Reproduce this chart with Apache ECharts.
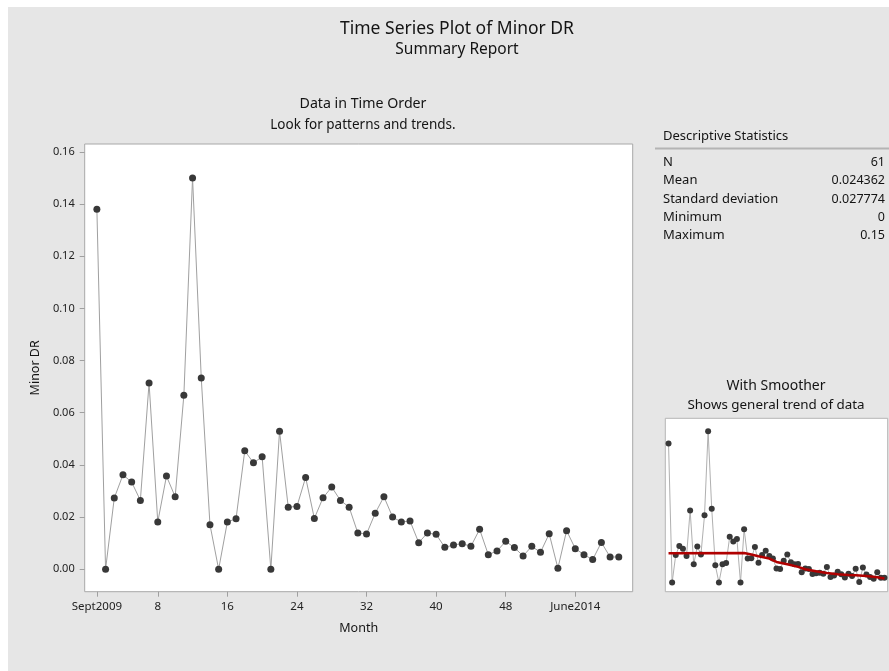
<!DOCTYPE html>
<html>
<head>
<meta charset="utf-8">
<script src="https://cdn.jsdelivr.net/npm/echarts@6/dist/echarts.min.js"></script>
<style>
html,body{margin:0;padding:0;background:#fff;}
#chart{width:889px;height:671px;}
</style>
</head>
<body>
<div id="chart"></div>
<script>
// ---- data ----
var minorDR = [
  0.138, 0, 0.0273, 0.0362, 0.0334, 0.0264, 0.0714, 0.0181, 0.0357, 0.0278,
  0.0667, 0.15, 0.0733, 0.0171, 0, 0.0181, 0.0194, 0.0454, 0.0408, 0.0431,
  0, 0.0529, 0.0238, 0.0241, 0.0352, 0.0195, 0.0274, 0.0315, 0.0264, 0.0238,
  0.0139, 0.0135, 0.0215, 0.0278, 0.0200, 0.0181, 0.0185, 0.0102, 0.0139, 0.0134,
  0.0084, 0.0093, 0.0098, 0.0088, 0.0153, 0.0056, 0.0070, 0.0107, 0.0083, 0.0051,
  0.0088, 0.0065, 0.0136, 0.0004, 0.0148, 0.0079, 0.0056, 0.0037, 0.0103, 0.0047, 0.0047
];
var smoothX = [1, 22, 24, 26, 29, 31, 34, 37, 39, 42, 45, 48, 51, 53, 56, 59, 61];
var smoothY = [0.0290, 0.0292, 0.0278, 0.0261, 0.0238, 0.0204, 0.0181, 0.0155, 0.0132, 0.0112, 0.0095, 0.0082, 0.0075, 0.0072, 0.0065, 0.0053, 0.0040];
var xTickValues = [1, 8, 16, 24, 32, 40, 48, 56];
var xTickLabels = ['Sept2009', '8', '16', '24', '32', '40', '48', 'June2014'];
var yTickValues = [0, 0.02, 0.04, 0.06, 0.08, 0.10, 0.12, 0.14, 0.16];
var statLabels = ['N', 'Mean', 'Standard deviation', 'Minimum', 'Maximum'];
var statValues = ['61', '0.024362', '0.027774', '0', '0.15'];

// ---- build ----
var FONT = '"Noto Sans", "Open Sans", sans-serif';
var TXT = '#141414';
var seriesData = minorDR.map(function (v, i) { return [i + 1, v]; });
var smoothData = smoothX.map(function (x, i) { return [x, smoothY[i]]; });

var graphics = [
  { type: 'rect', z: -10, silent: true, shape: { x: 8, y: 7, width: 881, height: 664 }, style: { fill: '#e6e6e6' } },
  { type: 'text', style: { text: 'Descriptive Statistics', x: 663, y: 136, font: '13px ' + FONT, fill: TXT, textVerticalAlign: 'middle' } },
  { type: 'line', shape: { x1: 655, y1: 148.5, x2: 889, y2: 148.5 }, style: { stroke: '#b4b4b4', lineWidth: 2 } }
];
var rowY = [162.5, 180.7, 199, 217.3, 235.7];
statLabels.forEach(function (lab, i) {
  graphics.push({ type: 'text', style: { text: lab, x: 663, y: rowY[i], font: '13px ' + FONT, fill: TXT, textVerticalAlign: 'middle' } });
  graphics.push({ type: 'text', style: { text: statValues[i], x: 885, y: rowY[i], font: '12.5px ' + FONT, fill: TXT, textAlign: 'right', textVerticalAlign: 'middle' } });
});

var chart = echarts.init(document.getElementById('chart'));
chart.setOption({
  backgroundColor: '#ffffff',
  animation: false,
  textStyle: { fontFamily: FONT },
  title: [
    { text: 'Time Series Plot of Minor DR', left: 452, top: 15, textAlign: 'center',
      textStyle: { fontSize: 17.5, fontWeight: 'normal', color: TXT, fontFamily: FONT } },
    { text: 'Summary Report', left: 452, top: 37, textAlign: 'center',
      textStyle: { fontSize: 15.5, fontWeight: 'normal', color: TXT, fontFamily: FONT } },
    { text: 'Data in Time Order', left: 358, top: 92, textAlign: 'center',
      textStyle: { fontSize: 14.2, fontWeight: 'normal', color: TXT, fontFamily: FONT } },
    { text: 'Look for patterns and trends.', left: 358, top: 113, textAlign: 'center',
      textStyle: { fontSize: 13.5, fontWeight: 'normal', color: TXT, fontFamily: FONT } },
    { text: 'With Smoother', left: 771, top: 374, textAlign: 'center',
      textStyle: { fontSize: 14, fontWeight: 'normal', color: TXT, fontFamily: FONT } },
    { text: 'Shows general trend of data', left: 771, top: 394, textAlign: 'center',
      textStyle: { fontSize: 13.4, fontWeight: 'normal', color: TXT, fontFamily: FONT } }
  ],
  graphic: graphics,
  grid: [
    { left: 84.7, top: 144, width: 548, height: 447.7, show: true, backgroundColor: '#ffffff', borderColor: '#a8a8a8', borderWidth: 1 },
    { left: 665.3, top: 418.3, width: 222.4, height: 173.4, show: true, backgroundColor: '#ffffff', borderColor: '#b4b4b4', borderWidth: 1 }
  ],
  xAxis: [
    { type: 'value', gridIndex: 0, min: -0.4, max: 62.6,
      name: 'Month', nameLocation: 'middle', nameGap: 30,
      nameTextStyle: { fontSize: 12.5, color: TXT },
      axisLine: { show: false, onZero: false },
      splitLine: { show: false },
      axisTick: { show: true, customValues: xTickValues, length: 5, lineStyle: { color: '#a0a0a0' } },
      axisLabel: { show: true, customValues: xTickValues, margin: 9, fontSize: 11.5, color: '#222',
        formatter: function (v) { var k = xTickValues.indexOf(Math.round(v)); return k >= 0 ? xTickLabels[k] : ''; } }
    },
    { type: 'value', gridIndex: 1, min: 0.1, max: 61.9,
      axisLine: { show: false, onZero: false }, splitLine: { show: false }, axisTick: { show: false }, axisLabel: { show: false } }
  ],
  yAxis: [
    { type: 'value', gridIndex: 0, min: -0.0086, max: 0.163,
      name: 'Minor DR', nameLocation: 'middle', nameGap: 34, nameRotate: 90,
      nameTextStyle: { fontSize: 12.5, color: TXT },
      axisLine: { show: false, onZero: false },
      splitLine: { show: false },
      axisTick: { show: true, customValues: yTickValues, length: 5, lineStyle: { color: '#a0a0a0' } },
      axisLabel: { show: true, customValues: yTickValues, margin: 10, fontSize: 11, color: '#222',
        formatter: function (v) { return v.toFixed(2); } }
    },
    { type: 'value', gridIndex: 1, min: -0.0091, max: 0.1629,
      axisLine: { show: false, onZero: false }, splitLine: { show: false }, axisTick: { show: false }, axisLabel: { show: false } }
  ],
  series: [
    { type: 'line', xAxisIndex: 0, yAxisIndex: 0, data: seriesData,
      symbol: 'circle', symbolSize: 7,
      lineStyle: { color: '#a0a0a0', width: 1 },
      itemStyle: { color: '#383838' }, z: 3 },
    { type: 'line', xAxisIndex: 1, yAxisIndex: 1, data: seriesData,
      symbol: 'circle', symbolSize: 6,
      lineStyle: { color: '#b0b0b0', width: 1 },
      itemStyle: { color: '#383838' }, z: 3 },
    { type: 'line', xAxisIndex: 1, yAxisIndex: 1, data: smoothData,
      symbol: 'none', smooth: false,
      lineStyle: { color: '#b00000', width: 2.5 }, z: 4 }
  ]
});
</script>
</body>
</html>
